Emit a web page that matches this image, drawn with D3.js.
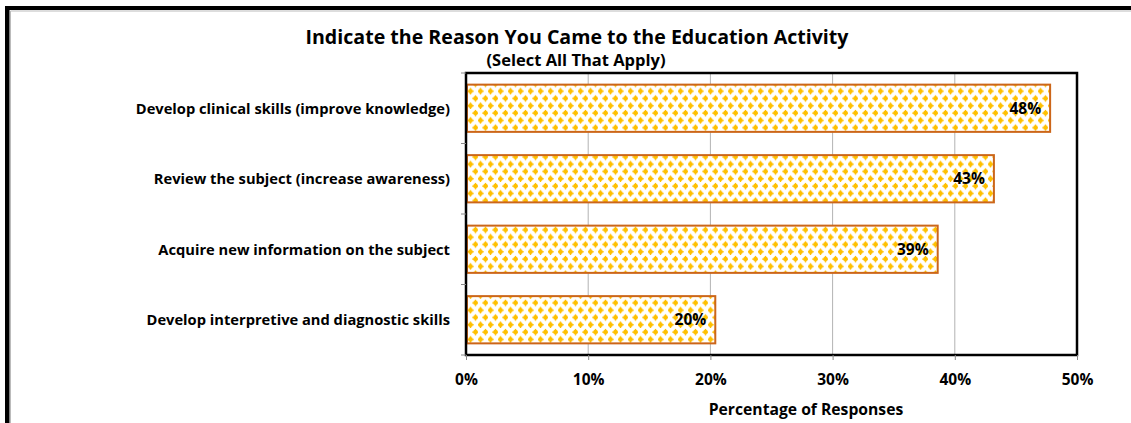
<!DOCTYPE html>
<html>
<head>
<meta charset="utf-8">
<script src="https://cdn.jsdelivr.net/npm/d3@7"></script>
<style>
  body { margin: 0; background: #fff; }
  svg { display: block; font-family: "Open Sans", "Noto Sans", sans-serif; }
</style>
</head>
<body>
<div id="chart"></div>
<script>
// chart data
const categories = [
  'Develop clinical skills (improve knowledge)',
  'Review the subject (increase awareness)',
  'Acquire new information on the subject',
  'Develop interpretive and diagnostic skills'
];
const values = [47.8, 43.2, 38.6, 20.4];
const valueLabels = ['48%', '43%', '39%', '20%'];
const xTicks = [0, 10, 20, 30, 40, 50];

const width = 1131, height = 423;
const plot = { left: 466, right: 1077, top: 73, bottom: 355 };

const svg = d3.select('#chart').append('svg')
  .attr('width', width)
  .attr('height', height);

// pattern fill for bars (staggered yellow dots)
const defs = svg.append('defs');
const pat = defs.append('pattern')
  .attr('id', 'dots')
  .attr('patternUnits', 'userSpaceOnUse')
  .attr('x', plot.left + 2)
  .attr('y', 0)
  .attr('width', 10)
  .attr('height', 14.6);
pat.append('rect').attr('width', 10).attr('height', 14.6).attr('fill', '#fff');
[[2.5, 3.6], [7.5, 10.9]].forEach(([cx, cy]) => {
  pat.append('circle').attr('cx', cx).attr('cy', cy).attr('r', 2.3).attr('fill', '#FFC000');
  pat.append('rect').attr('x', cx - 0.7).attr('y', cy - 3.2).attr('width', 1.4).attr('height', 6.4).attr('fill', '#FFC000');
  pat.append('rect').attr('x', cx - 3.2).attr('y', cy - 0.7).attr('width', 6.4).attr('height', 1.4).attr('fill', '#FFC000');
});

// outer frame
svg.append('rect').attr('x', 5).attr('y', 6).attr('width', width).attr('height', 4).attr('fill', '#000');
svg.append('rect').attr('x', 5).attr('y', 6).attr('width', 4.5).attr('height', height).attr('fill', '#000');
svg.append('line').attr('x1', 10.5).attr('x2', width).attr('y1', 11).attr('y2', 11).attr('stroke', '#bbb');
svg.append('line').attr('x1', 10.5).attr('x2', 10.5).attr('y1', 11).attr('y2', height).attr('stroke', '#bbb');

// title
svg.append('text')
  .attr('x', 577).attr('y', 44)
  .attr('text-anchor', 'middle')
  .attr('font-size', 19.6).attr('font-weight', 'bold')
  .text('Indicate the Reason You Came to the Education Activity');
svg.append('text')
  .attr('x', 576).attr('y', 66)
  .attr('text-anchor', 'middle')
  .attr('font-size', 16.5).attr('font-weight', 'bold')
  .text('(Select All That Apply)');

const x = d3.scaleLinear().domain([0, 50]).range([plot.left, plot.right]);
const y = d3.scaleBand().domain(categories).range([plot.top, plot.bottom]).paddingInner(0.33).paddingOuter(0.165);
const yOuter = d3.scaleBand().domain(categories).range([plot.top, plot.bottom]);

// gridlines
svg.append('g')
  .selectAll('line')
  .data(xTicks.slice(1, -1))
  .enter()
  .append('line')
  .attr('x1', d => x(d)).attr('x2', d => x(d))
  .attr('y1', plot.top).attr('y2', plot.bottom)
  .attr('stroke', '#b3b3b3').attr('stroke-width', 1);

// bars
const bars = svg.append('g');
bars.selectAll('rect')
  .data(values)
  .enter()
  .append('rect')
  .attr('x', x(0) + 1)
  .attr('y', (d, i) => y(categories[i]))
  .attr('width', d => x(d) - x(0) - 1)
  .attr('height', y.bandwidth())
  .attr('fill', 'url(#dots)')
  .attr('stroke', '#CC6619')
  .attr('stroke-width', 2);

// value labels
bars.selectAll('text')
  .data(values)
  .enter()
  .append('text')
  .attr('x', d => x(d) - 9)
  .attr('y', (d, i) => y(categories[i]) + y.bandwidth() / 2)
  .attr('dy', '0.36em')
  .attr('text-anchor', 'end')
  .attr('font-size', 15.5).attr('font-weight', 'bold')
  .text((d, i) => valueLabels[i]);

// plot frame
svg.append('rect')
  .attr('x', plot.left).attr('y', plot.top)
  .attr('width', plot.right - plot.left).attr('height', plot.bottom - plot.top)
  .attr('fill', 'none').attr('stroke', '#000').attr('stroke-width', 2.5);

// y axis ticks + labels
const yTickPos = categories.map(c => yOuter(c)).concat([plot.bottom]);
svg.append('g').selectAll('line')
  .data(yTickPos)
  .enter()
  .append('line')
  .attr('x1', plot.left - 5).attr('x2', plot.left)
  .attr('y1', d => d).attr('y2', d => d)
  .attr('stroke', '#888');

svg.append('g').selectAll('text')
  .data(categories)
  .enter()
  .append('text')
  .attr('x', 450)
  .attr('y', d => y(d) + y.bandwidth() / 2)
  .attr('dy', '0.36em')
  .attr('text-anchor', 'end')
  .attr('font-size', 14.7).attr('font-weight', 'bold')
  .text(d => d);

// x axis
const xAxis = svg.append('g')
  .attr('transform', `translate(0,${plot.bottom})`)
  .call(d3.axisBottom(x).tickValues(xTicks).tickFormat(d => d + '%').tickSize(5).tickPadding(14));
xAxis.select('.domain').remove();
xAxis.selectAll('line').attr('stroke', '#888');
xAxis.selectAll('text')
  .attr('font-size', 15.5).attr('font-weight', 'bold')
  .attr('font-family', '"Open Sans", "Noto Sans", sans-serif')
  .attr('fill', '#000');

svg.append('text')
  .attr('x', 806).attr('y', 415)
  .attr('text-anchor', 'middle')
  .attr('font-size', 15.7).attr('font-weight', 'bold')
  .text('Percentage of Responses');
</script>
</body>
</html>
